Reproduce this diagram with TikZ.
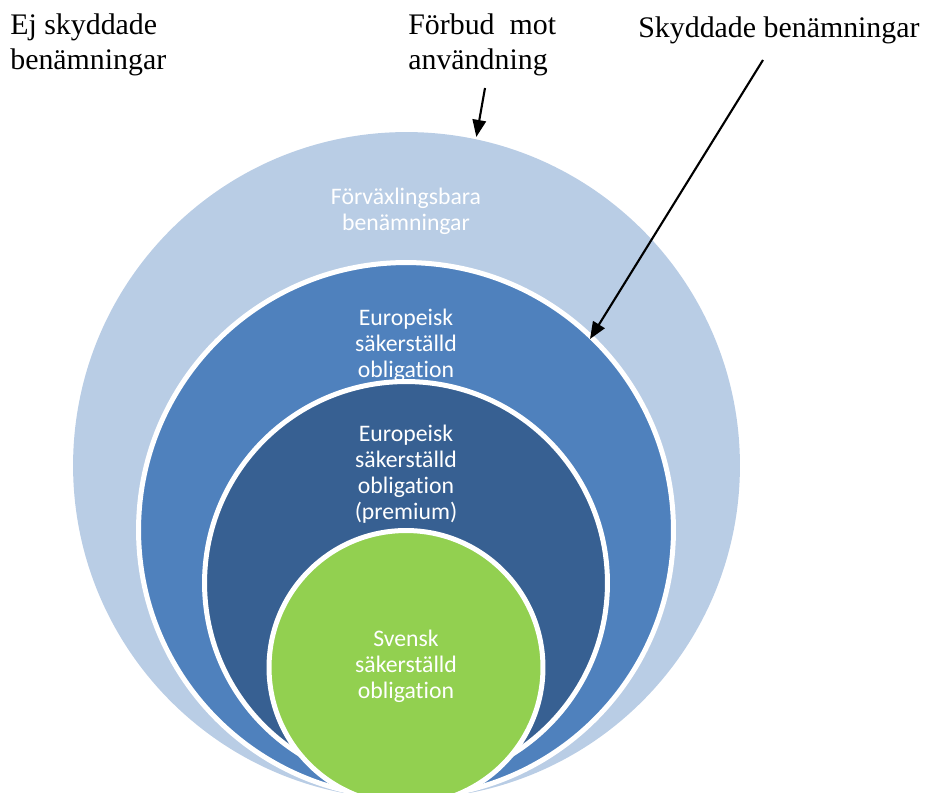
\documentclass[tikz,border=0pt]{standalone}
\usepackage{fontspec}
\setmainfont{Liberation Serif}
\newfontfamily\calibri[Ligatures={NoCommon,NoRare}]{Carlito}
\usetikzlibrary{arrows.meta}
\definecolor{ringpale}{HTML}{B9CDE5}
\definecolor{ringmid}{HTML}{4F81BD}
\definecolor{ringdark}{HTML}{376092}
\definecolor{ringgreen}{HTML}{92D050}
\tikzset{
  ring/.style={circle, inner sep=0pt, draw=white, line width=0.1cm},
  ringtext/.style={text=white, align=center, inner sep=0pt,
    font=\calibri\fontsize{13.5}{14.8}\selectfont},
  outtext/.style={align=left, inner sep=0pt, anchor=west,
    font=\fontsize{17}{19.8}\selectfont},
  pointer/.style={-{Triangle[length=0.34cm,width=0.27cm]}, line width=1.2pt}
}
\begin{document}
\begin{tikzpicture}[x=0.02cm, y=-0.02cm]
    \useasboundingbox (0,0) rectangle (926,793);
    \clip (0,0) rectangle (926,793);
    % nested circles
    \node[ring, draw=none, fill=ringpale, minimum size=13.34cm] (outer) at (406.5,465.5) {};
    \node[ring, fill=ringmid, minimum size=10.7cm] (mid) at (406,530) {};
    \node[ring, fill=ringdark, minimum size=8.06cm] (inner) at (406,583) {};
    \node[ring, fill=ringgreen, minimum size=5.48cm] (core) at (406,667.5) {};
    % labels in the circles
    \node[ringtext] (confusable) at (406,211) {Förväxlingsbara\\benämningar};
    \node[ringtext] (european) at (406,345) {Europeisk\\säkerställd\\obligation};
    \node[ringtext] (premium) at (406,474) {Europeisk\\säkerställd\\obligation\\(premium)};
    \node[ringtext] (swedish) at (406,666) {Svensk\\säkerställd\\obligation};
    % labels outside
    \node[outtext] (unprotected) at (10,45) {Ej skyddade\\benämningar};
    \node[outtext] (ban) at (408,45) {Förbud~ mot\\användning};
    \node[outtext] (protected) at (638,30) {Skyddade benämningar};
    % pointers
    \coordinate (tailA) at (485,88);
    \coordinate (tailB) at (763,60);
    \coordinate (tipB) at (590,339);
    \draw[pointer] (tailA) -- (outer.78.5);
    \draw[pointer] (tailB) -- (tipB);
\end{tikzpicture}
\end{document}
